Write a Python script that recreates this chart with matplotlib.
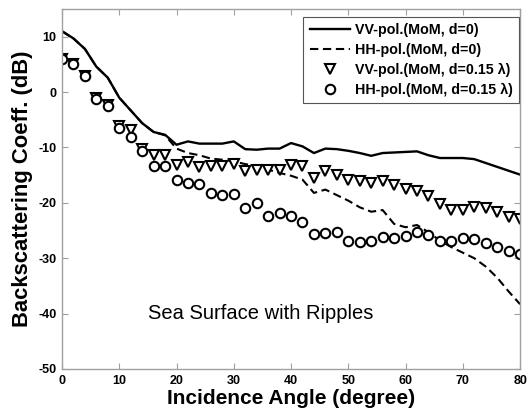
import numpy as np
import matplotlib
matplotlib.use("Agg")
import matplotlib.pyplot as plt

plt.rcParams['font.family'] = ['Liberation Sans', 'DejaVu Sans']

angles = list(range(0, 81, 2))

vv_d0 = [11.0, 9.7, 7.8, 4.6, 2.6, -1.0, -3.3, -5.6, -7.2, -7.7,
         -9.5, -8.9, -9.3, -9.3, -9.3, -8.9, -10.3, -10.4, -10.2, -10.2,
         -9.2, -9.8, -11.0, -10.2, -10.3, -10.6, -11.0, -11.5, -11.0, -10.9,
         -10.8, -10.7, -11.4, -11.9, -11.9, -11.9, -12.1, -12.8, -13.5, -14.2,
         -14.9]

hh_d0 = [11.0, 9.7, 7.8, 4.6, 2.6, -1.0, -3.3, -5.6, -7.2, -7.8,
         -10.2, -11.0, -11.4, -12.0, -12.2, -12.5, -13.0, -13.3, -14.0, -14.6,
         -15.1, -15.8, -18.2, -17.6, -18.6, -19.6, -20.8, -21.6, -21.3, -23.8,
         -24.4, -24.0, -25.3, -26.8, -28.0, -29.0, -30.0, -31.5, -33.5, -36.0,
         -38.3]

vv_d015 = [6.0, 5.1, 3.0, -1.1, -2.3, -6.2, -6.8, -10.2, -11.3, -11.4,
           -13.1, -12.6, -13.6, -13.4, -13.3, -12.9, -14.2, -14.1, -14.0, -14.0,
           -13.1, -13.4, -15.5, -14.3, -14.9, -15.8, -16.1, -16.5, -16.1, -16.7,
           -17.5, -17.9, -18.8, -20.2, -21.3, -21.3, -20.7, -21.0, -21.6, -22.5,
           -22.9]

hh_d015 = [6.0, 5.1, 2.9, -1.3, -2.5, -6.5, -8.1, -10.6, -13.3, -13.4,
           -15.8, -16.5, -16.6, -18.2, -18.5, -18.4, -21.0, -20.1, -22.4, -21.9,
           -22.3, -23.4, -25.6, -25.4, -25.2, -26.9, -27.0, -26.8, -26.1, -26.3,
           -26.0, -25.2, -25.8, -26.9, -26.9, -26.4, -26.6, -27.2, -28.0, -28.7,
           -29.3]

labels = ['VV-pol.(MoM, d=0)', 'HH-pol.(MoM, d=0)',
          'VV-pol.(MoM, d=0.15 λ)', 'HH-pol.(MoM, d=0.15 λ)']
xticks = [0, 10, 20, 30, 40, 50, 60, 70, 80]
yticks = [-50, -40, -30, -20, -10, 0, 10]

fig = plt.figure(figsize=(5.28, 4.12), dpi=100)
ax = fig.add_axes([0.1174, 0.1044, 0.8676, 0.8736])

ax.plot(angles, vv_d0, color='black', lw=1.7, ls='-', label=labels[0])
ax.plot(angles, hh_d0, color='black', lw=1.5, ls=(0, (4, 2.2)), label=labels[1])
ax.plot(angles, vv_d015, ls='none', marker='v', ms=7.5, mfc='white', mec='black',
        mew=1.5, label=labels[2])
ax.plot(angles, hh_d015, ls='none', marker='o', ms=6.8, mfc='white', mec='black',
        mew=1.5, label=labels[3])

ax.set_xlim(0, 80)
ax.set_ylim(-50, 15)
ax.set_xticks(xticks)
ax.set_yticks(yticks)
ax.set_xticklabels([str(t) for t in xticks], fontweight='bold', fontsize=9)
ax.set_yticklabels([str(t) for t in yticks], fontweight='bold', fontsize=9)
ax.tick_params(direction='in', top=True, right=True, length=4, color='#a0a0a0',
               width=0.8, pad=4)
for s in ax.spines.values():
    s.set_color('#a0a0a0')
    s.set_linewidth(1.0)

ax.set_xlabel('Incidence Angle (degree)', fontsize=15, fontweight='bold', labelpad=2)
ax.set_ylabel('Backscattering Coeff. (dB)', fontsize=15.8, fontweight='bold', labelpad=4)

ax.text(15, -40, 'Sea Surface with Ripples', fontsize=14.5, ha='left', va='center')

leg = ax.legend(loc='upper right', bbox_to_anchor=(0.998, 0.978),
                prop={'weight': 'bold', 'size': 10.3},
                handlelength=2.8, borderaxespad=0.0, fancybox=False,
                framealpha=1, edgecolor='#555555', labelspacing=0.4,
                borderpad=0.45, handletextpad=0.35)
leg.get_frame().set_linewidth(0.8)

fig.savefig('out.png', dpi=100)
